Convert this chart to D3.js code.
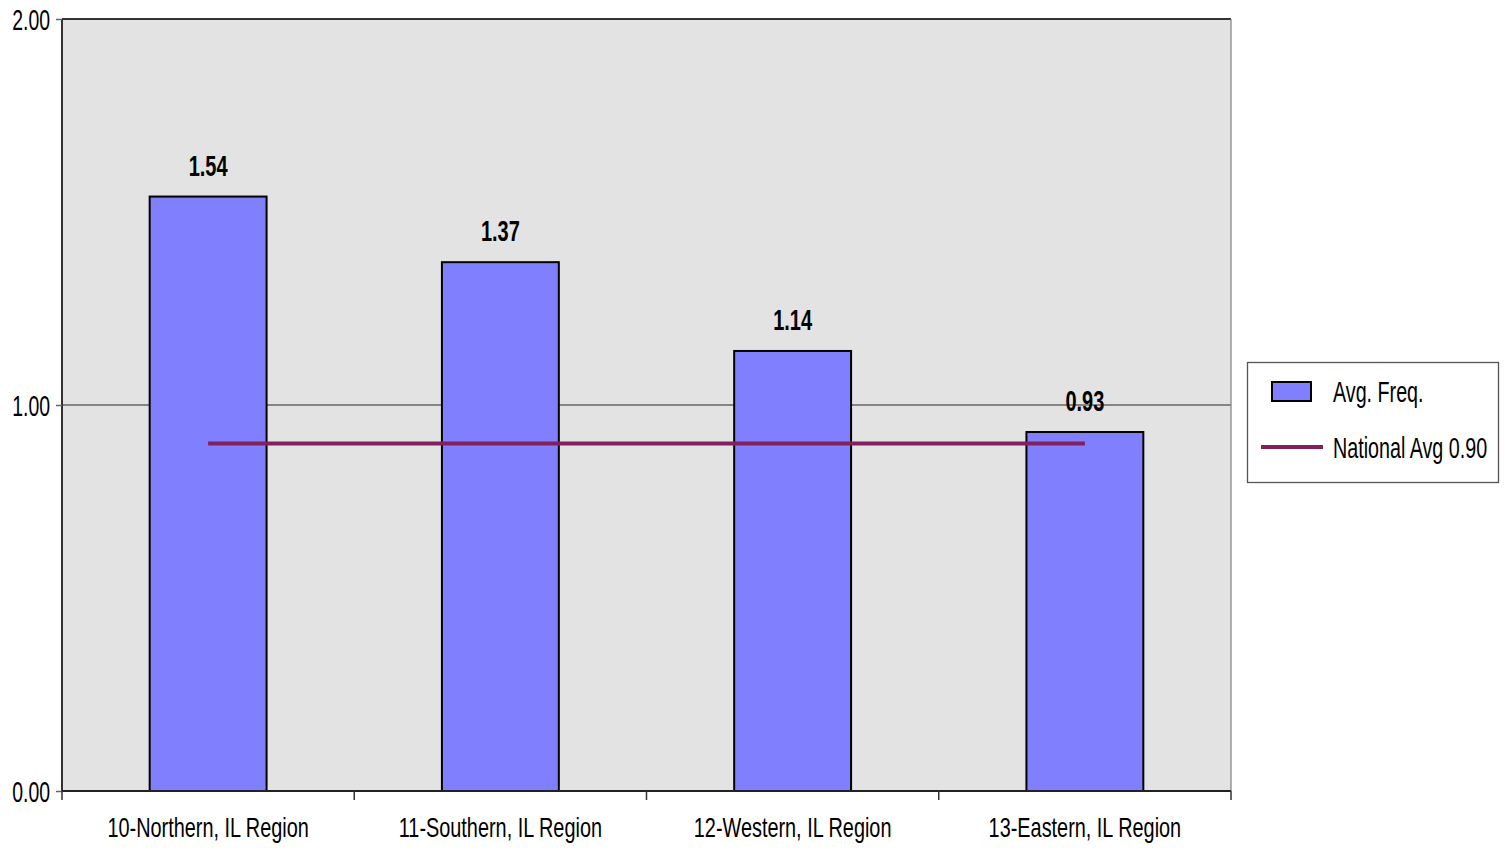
<!DOCTYPE html>
<html><head><meta charset="utf-8">
<script src="https://cdn.jsdelivr.net/npm/d3@7"></script>
<style>body{margin:0;background:#fff}svg{display:block}</style>
</head><body>
<svg id="c" width="1510" height="864"></svg>
<script>
const categories = ["10-Northern, IL Region","11-Southern, IL Region","12-Western, IL Region","13-Eastern, IL Region"];
const values = [1.54, 1.37, 1.14, 0.93];
const labels = ["1.54","1.37","1.14","0.93"];
const nationalAvg = [0.90, 0.90, 0.90, 0.90];
const yTicks = [0, 1, 2];
const seriesNames = ["Avg. Freq.", "National Avg 0.90"];

const FONT = "'Liberation Sans',Arial,sans-serif";
function narrow(sel, fx, fy, sx){
  sel.each(function(d,i){
    d3.select(this).attr("transform",`translate(${fx(d,i)},${fy(d,i)}) scale(${sx},1)`).attr("x",0).attr("y",0);
  });
}
const svg = d3.select("#c");
const L=62, R=1231, T=19, B=791;
const x = d3.scaleBand().domain(categories).range([L,R]).paddingInner(0).paddingOuter(0);
const y = d3.scaleLinear().domain([0,2]).range([B,T]);

svg.append("rect").attr("x",L).attr("y",T).attr("width",R-L).attr("height",B-T).attr("fill","#e3e3e3");
svg.append("g").selectAll("line").data(yTicks.filter(d=>d>0)).join("line")
  .attr("x1",L).attr("x2",R).attr("y1",d=>y(d)).attr("y2",d=>y(d))
  .attr("stroke",d=>d===2?"#333":"#666").attr("stroke-width",d=>d===2?2:1.3);
svg.append("line").attr("x1",R).attr("x2",R).attr("y1",T).attr("y2",B).attr("stroke","#888").attr("stroke-width",1.3);

const bw = x.bandwidth()*0.4;
svg.append("g").selectAll("rect").data(values).join("rect")
  .attr("x",(d,i)=>x(categories[i])+x.bandwidth()/2-bw/2)
  .attr("y",d=>y(d)).attr("width",bw).attr("height",d=>B-y(d))
  .attr("fill","#8080ff").attr("stroke","#000").attr("stroke-width",2);

svg.append("g").selectAll("text").data(values).join("text")
  .attr("text-anchor","middle").attr("font-family",FONT).attr("font-weight","bold")
  .attr("font-size",29).attr("fill","#000").text((d,i)=>labels[i])
  .call(narrow,(d,i)=>x(categories[i])+x.bandwidth()/2,d=>y(d)-21,0.69);

const line = d3.line().x((d,i)=>x(categories[i])+x.bandwidth()/2).y(d=>y(d));
svg.append("path").datum(nationalAvg).attr("d",line).attr("fill","none")
  .attr("stroke","#80205f").attr("stroke-width",4);

// y axis
const ya = svg.append("g").attr("transform",`translate(${L},0)`)
  .call(d3.axisLeft(y).tickValues(yTicks).tickFormat(d3.format(".2f")).tickSize(6).tickPadding(3));
ya.select(".domain").attr("stroke","#333").attr("stroke-width",2).attr("d",`M0,${T}V${B}`);
ya.selectAll(".tick line").attr("stroke","#666").attr("stroke-width",1.5);
ya.selectAll(".tick text").attr("font-family",FONT).attr("font-size",29).attr("fill","#000").attr("dy","0.35em")
  .call(narrow,()=>-12,()=>0,0.67);

// x axis
const xa = svg.append("g").attr("transform",`translate(0,${B})`)
  .call(d3.axisBottom(x).tickSize(0));
xa.select(".domain").attr("stroke","#222").attr("stroke-width",2).attr("d",`M${L},0H${R}`);
xa.selectAll(".tick text").attr("font-family",FONT).attr("font-size",28).attr("fill","#000").attr("dy",null)
  .call(narrow,()=>0,()=>46,0.71);
svg.append("g").selectAll("line").data(d3.range(categories.length+1)).join("line")
  .attr("x1",i=>L+i*x.bandwidth()).attr("x2",i=>L+i*x.bandwidth())
  .attr("y1",B).attr("y2",B+9).attr("stroke","#333").attr("stroke-width",1.5);

// legend
const lg = svg.append("g");
lg.append("rect").attr("x",1247.5).attr("y",362.5).attr("width",251).attr("height",120)
  .attr("fill","#fff").attr("stroke","#555").attr("stroke-width",1.3);
lg.append("rect").attr("x",1272).attr("y",382).attr("width",39).attr("height",19)
  .attr("fill","#8080ff").attr("stroke","#000").attr("stroke-width",2);
lg.append("line").attr("x1",1261).attr("x2",1323).attr("y1",447).attr("y2",447)
  .attr("stroke","#80205f").attr("stroke-width",4);
lg.selectAll("text").data(seriesNames).join("text")
  .attr("dy","0.35em").attr("font-family",FONT).attr("font-size",29).attr("fill","#000").text(d=>d)
  .call(narrow,()=>1333,(d,i)=>i===0?392:448,0.68);
</script>
</body></html>
